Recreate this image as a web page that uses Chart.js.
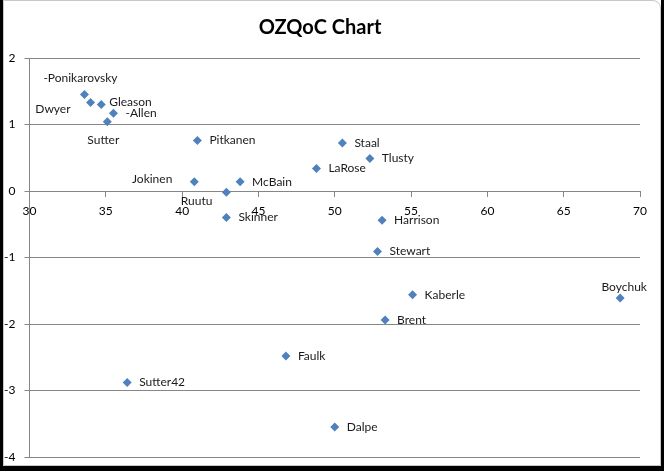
<!DOCTYPE html>
<html>
<head>
<meta charset="utf-8">
<script src="https://cdn.jsdelivr.net/npm/chart.js@4/dist/chart.umd.min.js"></script>
<style>
  body { margin: 0; background: #fff; }
  #wrap { position: relative; width: 664px; height: 471px; }
  #ozqocChart { display: block; }
  #frame {
    position: absolute; left: 0; top: 0; right: 0; bottom: 0;
    border-left: 3px solid #000; border-right: 3px solid #000; border-bottom: 5px solid #000;
    pointer-events: none;
  }
  #inner {
    position: absolute; left: 3px; top: 0; right: 3px; bottom: 5px;
    border: 1px solid #c8c8c8; border-top-right-radius: 8px;
    pointer-events: none;
  }
</style>
</head>
<body>
<div id="wrap">
  <canvas id="ozqocChart" width="664" height="471"></canvas>
  <div id="inner"></div>
  <div id="frame"></div>
</div>
<script>
// player names as shown next to each point
var players = ['-Ponikarovsky', 'Dwyer', 'Gleason', '-Allen', 'Sutter', 'Pitkanen', 'Jokinen',
  'Staal', 'Tlusty', 'LaRose', 'McBain', 'Ruutu', 'Skinner', 'Harrison', 'Stewart',
  'Kaberle', 'Boychuk', 'Brent', 'Faulk', 'Sutter42', 'Dalpe'];

// x and y values
var xValues = [33.6, 34.0, 34.7, 35.5, 35.1, 41.0, 40.8,
  50.5, 52.3, 48.8, 43.8, 42.9, 42.9, 53.1, 52.8,
  55.1, 68.7, 53.3, 46.8, 36.4, 50.0];
var yValues = [1.45, 1.33, 1.30, 1.17, 1.04, 0.76, 0.14,
  0.72, 0.49, 0.34, 0.14, -0.02, -0.40, -0.44, -0.91,
  -1.56, -1.61, -1.94, -2.48, -2.88, -3.55];

// axis ranges and steps
var xTicks = [30, 35, 40, 45, 50, 55, 60, 65, 70];
var yTicks = [2, 1, 0, -1, -2, -3, -4];

document.addEventListener('DOMContentLoaded', function () {
    var ctx = document.getElementById('ozqocChart').getContext('2d');

    var points = xValues.map(function (x, i) {
        return { x: x, y: yValues[i] };
    });

    // where each label sits relative to its marker: [dx, dy, align]
    var labelSpot = {
        '-Ponikarovsky': [-4, -16, 'center'],
        'Dwyer': [-20, 7, 'right'],
        'Gleason': [8, -2, 'left'],
        'Sutter': [-4, 18, 'center'],
        'Jokinen': [-22, -3, 'right'],
        'Ruutu': [-14, 9, 'right'],
        'Boychuk': [4, -11, 'center']
    };

    var pointLabels = {
        id: 'pointLabels',
        afterDatasetsDraw: function (chart) {
            var c = chart.ctx;
            var meta = chart.getDatasetMeta(0);
            c.save();
            c.font = '12px Lato';
            c.fillStyle = '#1a1a1a';
            c.textBaseline = 'middle';
            meta.data.forEach(function (pt, i) {
                var spot = labelSpot[players[i]] || [12, 0, 'left'];
                c.textAlign = spot[2];
                c.fillText(players[i], pt.x + spot[0], pt.y + spot[1]);
            });
            c.restore();
        }
    };

    new Chart(ctx, {
        type: 'scatter',
        data: {
            datasets: [{
                label: 'OZQoC',
                data: points,
                pointStyle: 'rectRot',
                pointRadius: 4.5,
                pointBorderWidth: 0,
                backgroundColor: '#4F81BD',
                borderColor: '#4F81BD'
            }]
        },
        options: {
            responsive: false,
            animation: false,
            devicePixelRatio: 1,
            layout: { padding: { top: 0, left: 0, right: 24, bottom: 14 } },
            plugins: {
                legend: { display: false },
                tooltip: { enabled: false },
                title: {
                    display: true,
                    text: 'OZQoC Chart',
                    color: '#000',
                    font: { family: 'Lato', size: 20, weight: 'bold' },
                    padding: { top: 16, bottom: 18 }
                }
            },
            scales: {
                x: {
                    type: 'linear',
                    min: xTicks[0],
                    max: xTicks[xTicks.length - 1],
                    position: { y: 0 },
                    afterBuildTicks: function (axis) {
                        axis.ticks = xTicks.map(function (v) { return { value: v }; });
                    },
                    grid: { drawOnChartArea: false, drawTicks: true, tickLength: 5, color: '#868686' },
                    border: { display: true, color: '#868686' },
                    ticks: { color: '#000', padding: 8, font: { family: 'Lato', size: 12 } }
                },
                y: {
                    type: 'linear',
                    min: yTicks[yTicks.length - 1],
                    max: yTicks[0],
                    afterBuildTicks: function (axis) {
                        axis.ticks = yTicks.map(function (v) { return { value: v }; });
                    },
                    afterFit: function (axis) {
                        axis.width = 29.5;
                        axis.paddingTop = 0;
                        axis.paddingBottom = 0;
                    },
                    grid: { color: '#868686', tickLength: 5 },
                    border: { display: true, color: '#868686' },
                    ticks: { color: '#000', padding: 9, font: { family: 'Lato', size: 12 } }
                }
            }
        },
        plugins: [pointLabels]
    });
});
</script>
</body>
</html>
